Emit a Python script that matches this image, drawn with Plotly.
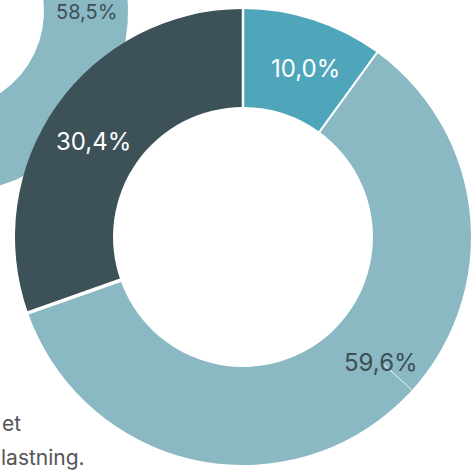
import numpy as np
import plotly.graph_objects as go

# ---- data ----
main_labels = ["Andel A", "Andel B", "Andel C"]
main_values = [10.0, 59.6, 30.4]
main_text = ["10,0%", "59,6%", "30,4%"]

# left (partly visible) donut; only the 58,5% slice is visible, others estimated
side_labels = ["Andel A", "Andel B", "Andel C"]
side_values = [9.0, 58.5, 32.5]
side_text = ["9,0%", "58,5%", "32,5%"]

colors = ["#4FA6BB", "#8AB9C4", "#3D5258"]
text_colors = ["#FFFFFF", "#3D4F55", "#FFFFFF"]

W, H = 471, 470
FONT = "Inter"

fig = go.Figure()

# ---- left donut drawn on a pixel-mapped cartesian axis (its centre lies off canvas) ----
scx, scy, sR, sr = -55.0, 11.0, 183.0, 99.0
start = 0.0
tot = sum(side_values)
for lab, v, c in zip(side_labels, side_values, colors):
    a0 = start
    a1 = start + v / tot * 360.0
    start = a1
    t = np.radians(np.linspace(a0, a1, int((a1 - a0) * 2) + 2))
    xo = scx + sR * np.sin(t)
    yo = scy - sR * np.cos(t)
    xi = scx + sr * np.sin(t[::-1])
    yi = scy - sr * np.cos(t[::-1])
    fig.add_trace(go.Scatter(
        x=np.concatenate([xo, xi, xo[:1]]),
        y=np.concatenate([yo, yi, yo[:1]]),
        mode="lines", fill="toself", fillcolor=c,
        line=dict(color=c, width=0), hoverinfo="skip",
        name=lab, showlegend=False,
    ))

# ---- main donut ----
mcx, mcy, mR = 243.0, 237.0, 228.0
hole = 0.57
fig.add_trace(go.Pie(
    labels=main_labels, values=main_values, sort=False, direction="clockwise",
    rotation=0, hole=hole, textinfo="none", showlegend=False,
    marker=dict(colors=colors, line=dict(color="white", width=0)),
    domain=dict(x=[(mcx - mR) / W, (mcx + mR) / W],
                y=[(H - (mcy + mR)) / H, (H - (mcy - mR)) / H]),
))

# white separators between the main slices (angles from cumulative values)
shapes = []
mtot = sum(main_values)
cum = np.concatenate([[0.0], np.cumsum(main_values)[:-1]]) / mtot * 360.0
sep_widths = [2.5, 2.0, 3.5]
for ang, sw in zip(cum, sep_widths):
    a = np.radians(ang)
    r0, r1 = mR * hole - 3, mR + 3
    shapes.append(dict(type="line", xref="x", yref="y", layer="above",
                       x0=mcx + r0 * np.sin(a), y0=mcy - r0 * np.cos(a),
                       x1=mcx + r1 * np.sin(a), y1=mcy - r1 * np.cos(a),
                       line=dict(color="white", width=sw)))

# ---- labels ----
main_lab_pos = [(305, 68), (381, 362), (93, 141)]
ann = []
for (x, y), t, tc in zip(main_lab_pos, main_text, text_colors):
    ann.append(dict(x=x, y=y, xref="x", yref="y", text=t, showarrow=False,
                    font=dict(family=FONT, size=24, color=tc),
                    xanchor="center", yanchor="middle"))

# thin leader line from the 59,6% label outwards
la = np.arctan2(362 - mcy, 381 - mcx)
shapes.append(dict(type="line", xref="x", yref="y", layer="above",
                   x0=mcx + (mR - 38) * np.cos(la), y0=mcy + (mR - 38) * np.sin(la),
                   x1=mcx + mR * np.cos(la), y1=mcy + mR * np.sin(la),
                   line=dict(color="rgba(255,255,255,0.85)", width=1)))

ann.append(dict(x=86.5, y=11.5, xref="x", yref="y", text=side_text[1], showarrow=False,
                font=dict(family=FONT, size=20, color="#3D4F55"),
                xanchor="center", yanchor="middle"))
ann.append(dict(x=0, y=423, xref="x", yref="y", text="et", showarrow=False,
                font=dict(family=FONT, size=21, color="#555555"),
                xanchor="left", yanchor="middle"))
ann.append(dict(x=87, y=457, xref="x", yref="y", text="lastning.", showarrow=False,
                font=dict(family=FONT, size=21, color="#555555"),
                xanchor="right", yanchor="middle"))

fig.update_layout(
    width=W, height=H, margin=dict(l=0, r=0, t=0, b=0),
    paper_bgcolor="white", plot_bgcolor="white",
    xaxis=dict(range=[0, W], visible=False, fixedrange=True, domain=[0, 1]),
    yaxis=dict(range=[H, 0], visible=False, fixedrange=True, domain=[0, 1]),
    annotations=ann, shapes=shapes, font=dict(family=FONT),
)

fig.write_html("out.html", config={"displayModeBar": False},
               post_script="document.body.style.margin='0';")
